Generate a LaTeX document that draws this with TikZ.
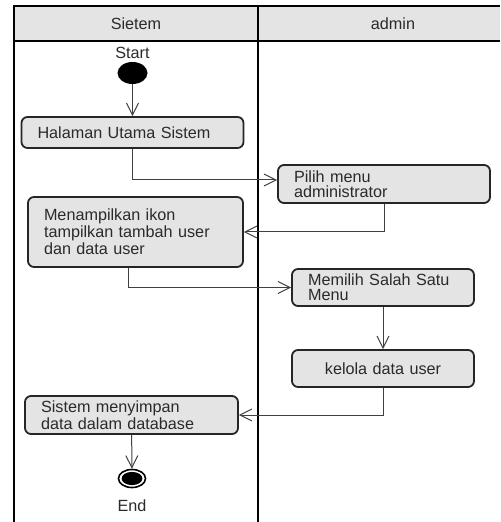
\documentclass[tikz,border=0pt]{standalone}
\usepackage{fontspec}
\setmainfont{Liberation Sans}
\usetikzlibrary{arrows.meta,positioning,shapes.geometric}
\definecolor{abu}{HTML}{E4E4E4}
\definecolor{teks}{HTML}{2A2A2A}

\begin{document}
\begin{tikzpicture}[x=0.5pt,y=-0.5pt,
  every node/.style={font={\fontsize{8.1}{7.3}\selectfont}, text=teks},
  aksi/.style={draw=black!85, line width=0.9pt, rounded corners=3pt, fill=abu, inner xsep=8pt, inner ysep=1pt, align=left},
  panah/.style={draw=black!75, line width=0.5pt, -{Straight Barb[length=6pt,width=6pt]}},
  lajur/.style={line width=1.2pt}]
\useasboundingbox (0,0) rectangle (500,522);
\fill[abu] (14,6) rectangle (500,41);
\draw[lajur] (500,6) -- (14,6) -- (14,522);
\draw[lajur] (14,41) -- (500,41);
\draw[lajur] (258,6) -- (258,522);
\node (lajurSistem) at (136,24) {Sietem};
\node (lajurAdmin) at (393,24) {admin};

\node[ellipse, fill=black, minimum width=15pt, minimum height=11pt, inner sep=0pt] (mulai) at (132.5,73) {};
\node[above=-2pt of mulai] (lblMulai) {Start};
\node[aksi, text width=95pt, minimum height=15.5pt] (halaman) at (132.5,132.5) {Halaman Utama Sistem};
\node[aksi, text width=90pt, minimum height=19pt] (pilih) at (384,184) {Pilih menu\\administrator};
\node[aksi, text width=91.5pt, minimum height=35pt] (menampilkan) at (135.5,232) {Menampilkan ikon\\tampilkan tambah user\\dan data user};
\node[aksi, text width=75pt, minimum height=18.5pt] (memilih) at (383,287.5) {Memilih Salah Satu\\Menu};
\node[aksi, text width=75pt, minimum height=18.5pt, align=center] (kelola) at (383,368.5) {kelola data user};
\node[aksi, text width=90.5pt, minimum height=19pt] (sistem) at (131.5,415) {Sistem menyimpan\\data dalam database};
\node[ellipse, draw=black, line width=0.8pt, fill=white, minimum width=13.5pt, minimum height=9pt, inner sep=0pt] (akhir) at (132,478.5) {};
\fill (akhir.center) ellipse [x radius=5.2pt, y radius=3.3pt];
\node[below=2pt of akhir] (lblAkhir) {End};

\draw[panah] (mulai) -- (halaman);
\draw[panah] (halaman.south) |- ([yshift=2pt]pilih.west);
\draw[panah] (pilih.south) |- (menampilkan.east);
\draw[panah] ([xshift=-3.5pt]menampilkan.south) |- (memilih.west);
\draw[panah] (memilih) -- (kelola);
\draw[panah] (kelola.south) |- (sistem.east);
\draw[panah] (sistem) -- (akhir);
\end{tikzpicture}
\end{document}
